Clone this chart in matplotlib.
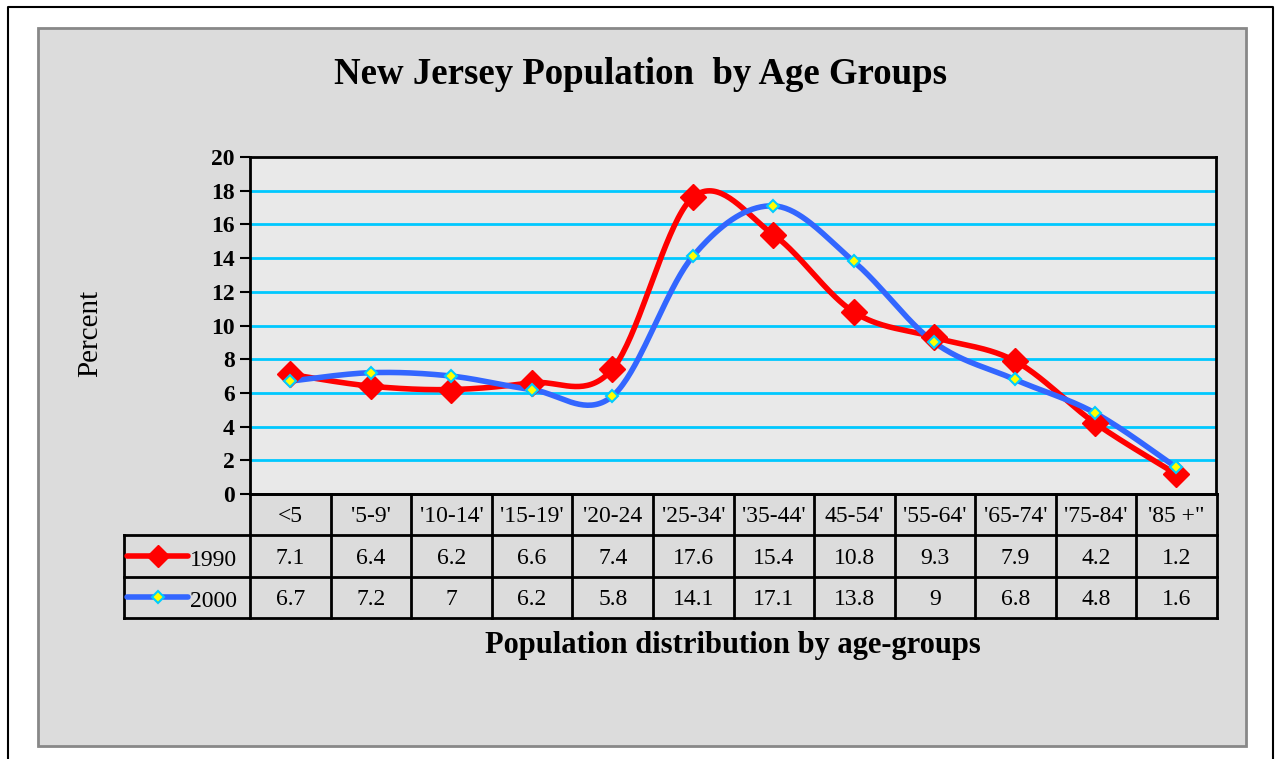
import numpy as np
import matplotlib
matplotlib.use('Agg')
import matplotlib.pyplot as plt
from matplotlib.patches import Rectangle
from matplotlib.lines import Line2D

categories = ['<5', "'5-9'", "'10-14'", "'15-19'", "'20-24", "'25-34'", "'35-44'",
              "45-54'", "'55-64'", "'65-74'", "'75-84'", "'85 +\""]
pop_1990 = [7.1, 6.4, 6.2, 6.6, 7.4, 17.6, 15.4, 10.8, 9.3, 7.9, 4.2, 1.2]
pop_2000 = [6.7, 7.2, 7, 6.2, 5.8, 14.1, 17.1, 13.8, 9, 6.8, 4.8, 1.6]
labels_1990 = ['7.1', '6.4', '6.2', '6.6', '7.4', '17.6', '15.4', '10.8', '9.3', '7.9', '4.2', '1.2']
labels_2000 = ['6.7', '7.2', '7', '6.2', '5.8', '14.1', '17.1', '13.8', '9', '6.8', '4.8', '1.6']
series_names = ['1990', '2000']

plt.rcParams['font.family'] = ['Liberation Serif', 'DejaVu Serif']

W, H = 1275, 759


def smooth(x, y, n=40):
    # excel-like smoothing: cubic bezier with catmull-rom control points
    x = np.asarray(x, float)
    y = np.asarray(y, float)
    px = np.concatenate([[x[0]], x, [x[-1]]])
    py = np.concatenate([[y[0]], y, [y[-1]]])
    t = np.linspace(0, 1, n)
    xs, ys = [], []
    for i in range(1, len(px) - 2):
        p0 = np.array([px[i], py[i]])
        p3 = np.array([px[i + 1], py[i + 1]])
        c1 = p0 + (p3 - np.array([px[i - 1], py[i - 1]])) / 6
        c2 = p3 - (np.array([px[i + 2], py[i + 2]]) - p0) / 6
        b = ((1 - t) ** 3)[:, None] * p0 + (3 * (1 - t) ** 2 * t)[:, None] * c1 \
            + (3 * (1 - t) * t ** 2)[:, None] * c2 + (t ** 3)[:, None] * p3
        xs.append(b[:, 0])
        ys.append(b[:, 1])
    return np.concatenate(xs), np.concatenate(ys)


def fig_box(x0, y0, x1, y1):
    return [x0 / W, 1 - y1 / H, (x1 - x0) / W, (y1 - y0) / H]


fig = plt.figure(figsize=(W / 100, H / 100), dpi=100)
fig.patch.set_facecolor('white')

# outer frame (left, top, right)
fig.add_artist(Line2D([8 / W, 8 / W, 1273 / W, 1273 / W], [0, 1 - 7 / H, 1 - 7 / H, 0],
                      color='black', lw=1.5, transform=fig.transFigure, zorder=-2))
# gray chart panel
b = fig_box(38, 28, 1246, 746)
fig.add_artist(Rectangle((b[0], b[1]), b[2], b[3], transform=fig.transFigure,
                         facecolor='#dcdcdc', edgecolor='#888888', lw=2, zorder=-1))

ax = fig.add_axes(fig_box(250, 157, 1216, 494))
ax.set_facecolor('#e9e9e9')
x = np.arange(len(categories))

ax.set_yticks(np.arange(0, 21, 2))
for yv in np.arange(2, 20, 2):
    ax.axhline(yv, color='#00c8ff', lw=2, zorder=1)

sx, sy = smooth(x, pop_1990)
ax.plot(sx, sy, color='#ff0000', lw=4, zorder=3, solid_capstyle='round')
ax.plot(x, pop_1990, 'D', color='#ff0000', ms=13, zorder=4)
sx, sy = smooth(x, pop_2000)
ax.plot(sx, sy, color='#3366ff', lw=4, zorder=3, solid_capstyle='round')
ax.plot(x, pop_2000, 'D', color='#ffff00', mec='#00ccff', mew=1.5, ms=6, zorder=5)

ax.set_xlim(-0.5, len(categories) - 0.5)
ax.set_ylim(0, 20)
ax.set_xticks([])
ax.tick_params(axis='y', direction='out', length=7, width=1.5, labelsize=17, pad=4)
for lab in ax.get_yticklabels():
    lab.set_fontweight('bold')
for s in ax.spines.values():
    s.set_linewidth(2)

# data table
cw = (1216 - 250) / len(categories)
left_col = (250 - 124) / cw
tab = fig.add_axes(fig_box(124, 494, 1217, 618))
tab.set_xlim(-0.5 - left_col, len(categories) - 0.5)
tab.set_ylim(3, 0)
tab.axis('off')
lw = 2
tab.plot([-0.5, -0.5], [0, 3], color='black', lw=lw, clip_on=False)
tab.plot([-0.5 - left_col, -0.5 - left_col], [1, 3], color='black', lw=lw, clip_on=False)
for xv in np.arange(0.5, len(categories) - 0.5):
    tab.plot([xv, xv], [0, 3], color='black', lw=lw, clip_on=False)
tab.plot([len(categories) - 0.5] * 2, [0, 3], color='black', lw=lw, clip_on=False)
tab.plot([-0.5, len(categories) - 0.5], [0, 0], color='black', lw=lw, clip_on=False)
for yv in [1, 2, 3]:
    tab.plot([-0.5 - left_col, len(categories) - 0.5], [yv, yv], color='black', lw=lw, clip_on=False)

fs = 17
for i, c in enumerate(categories):
    tab.text(i, 0.55, c, ha='center', va='center', fontsize=fs)
    tab.text(i, 1.55, labels_1990[i], ha='center', va='center', fontsize=fs)
    tab.text(i, 2.55, labels_2000[i], ha='center', va='center', fontsize=fs)

# legend keys inside table
k0 = -0.5 - left_col + 3 / cw
k1 = -0.5 - left_col + 64 / cw
km = (k0 + k1) / 2
tab.plot([k0, k1], [1.5, 1.5], color='#ff0000', lw=4, solid_capstyle='round')
tab.plot([km], [1.5], 'D', color='#ff0000', ms=11)
tab.plot([k0, k1], [2.5, 2.5], color='#3366ff', lw=4, solid_capstyle='round')
tab.plot([km], [2.5], 'D', color='#ffff00', mec='#00ccff', mew=1.5, ms=6)
tab.text(k1 + 2 / cw, 1.6, series_names[0], ha='left', va='center', fontsize=fs)
tab.text(k1 + 2 / cw, 2.6, series_names[1], ha='left', va='center', fontsize=fs)

fig.text(641 / W, 1 - 75 / H, 'New Jersey Population  by Age Groups', ha='center', va='center',
         fontsize=26.5, fontweight='bold')
fig.text(90 / W, 1 - 333 / H, 'Percent', ha='center', va='center', rotation=90, fontsize=21)
fig.text(733 / W, 1 - 645 / H, 'Population distribution by age-groups', ha='center', va='center',
         fontsize=22, fontweight='bold')

fig.savefig('out.png', dpi=100)
